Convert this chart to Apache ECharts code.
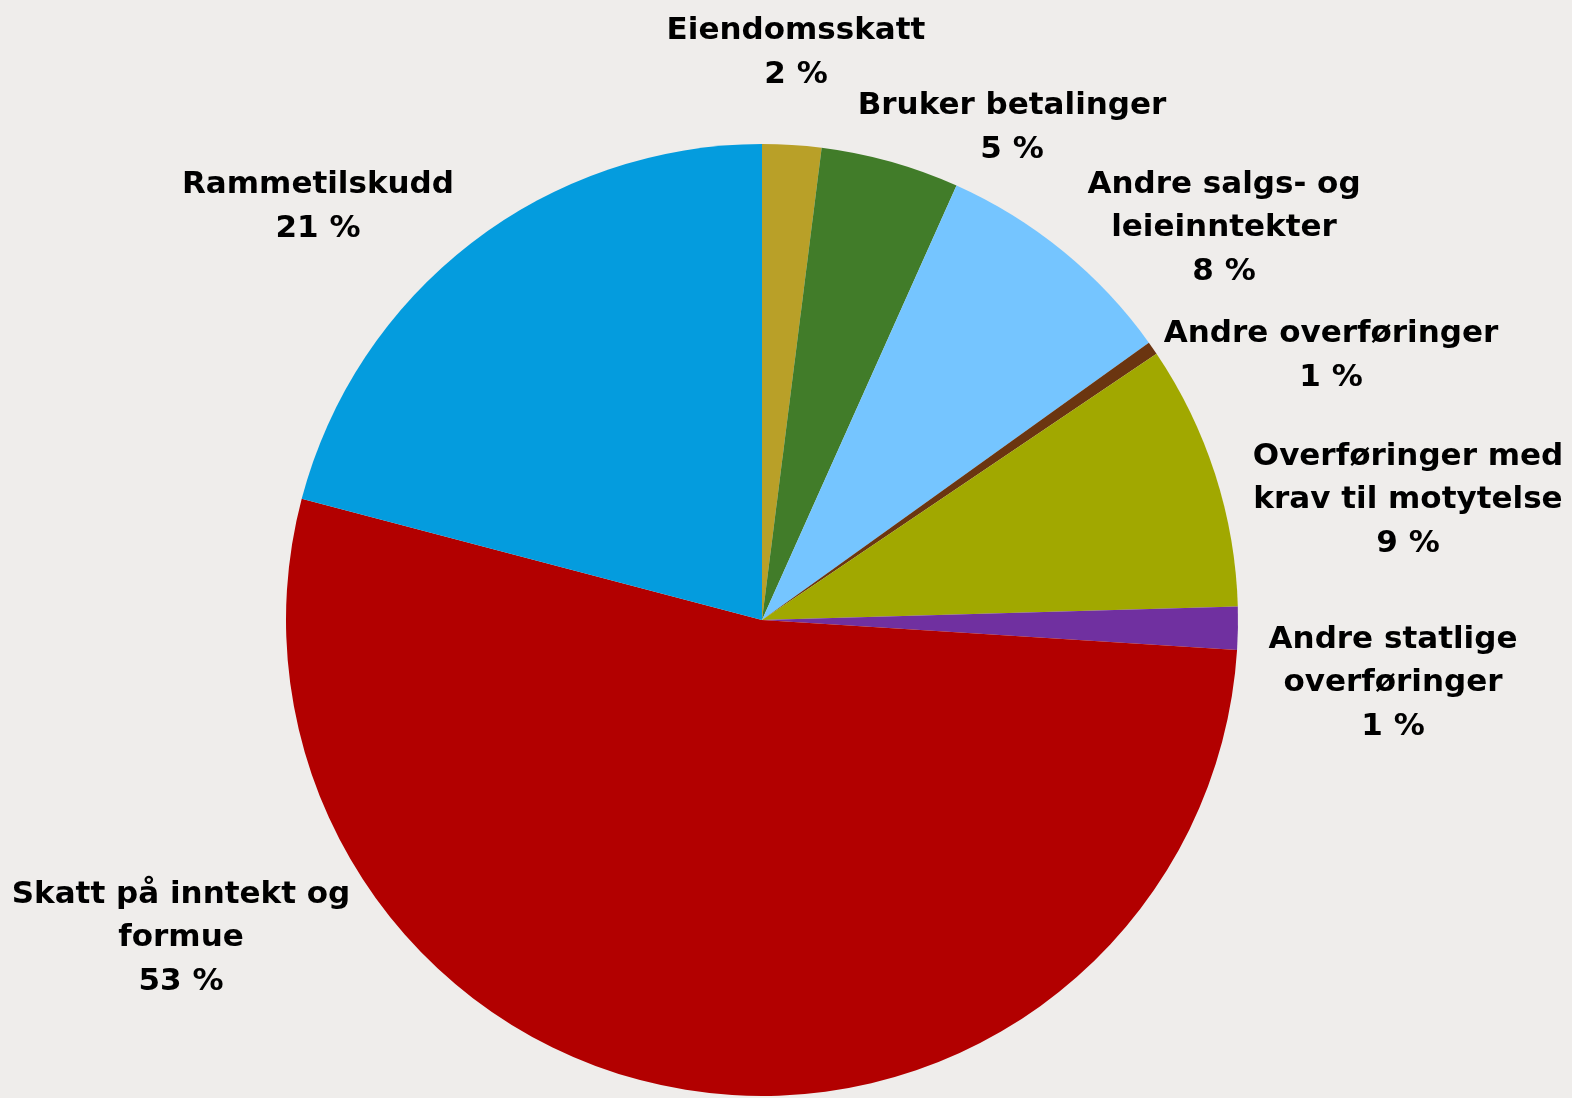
<!DOCTYPE html>
<html>
<head>
<meta charset="utf-8">
<script src="https://cdn.jsdelivr.net/npm/echarts@6/dist/echarts.min.js"></script>
<style>
  html, body { margin: 0; padding: 0; background: #EFEDEB; }
  #chart { width: 1572px; height: 1098px; }
</style>
</head>
<body>
<div id="chart"></div>
<script>
// categories, clockwise from 12 o'clock
const categories = [
  'Eiendomsskatt',
  'Bruker betalinger',
  'Andre salgs- og\nleieinntekter',
  'Andre overføringer',
  'Overføringer med\nkrav til motytelse',
  'Andre statlige\noverføringer',
  'Skatt på inntekt og\nformue',
  'Rammetilskudd'
]
// shares in percent
const shares = [2.0, 4.7, 8.4, 0.45, 9.0, 1.45, 53.1, 20.9]
// percentages as printed on the labels
const pctLabels = ['2 %', '5 %', '8 %', '1 %', '9 %', '1 %', '53 %', '21 %']

const colors = ['#B9A028', '#417C29', '#75C5FF', '#6B3510', '#A1A800', '#7030A0', '#B20000', '#049CDE']
// label block centres (x, y) in px
const labelPos = [
  [796, 53], [1012, 128], [1224, 228], [1331, 356],
  [1408, 500], [1393, 683], [181, 938], [318, 207]
]

const chart = echarts.init(document.getElementById('chart'))

chart.setOption({
  backgroundColor: '#EFEDEB',
  animation: false,
  series: [
    {
      type: 'pie',
      center: [762, 620],
      radius: 476,
      startAngle: 90,
      clockwise: true,
      avoidLabelOverlap: false,
      data: categories.map((name, i) => ({
        name: name,
        value: shares[i],
        itemStyle: { color: colors[i] }
      })),
      itemStyle: { borderWidth: 0 },
      label: {
        show: true,
        position: 'outside',
        formatter: (p) => p.name + '\n' + pctLabels[p.dataIndex],
        fontFamily: '"DejaVu Sans", sans-serif',
        fontWeight: 'bold',
        fontSize: 31,
        lineHeight: 43.5,
        color: '#000',
        align: 'center'
      },
      labelLine: { show: false },
      labelLayout: (params) => ({
        x: labelPos[params.dataIndex][0],
        y: labelPos[params.dataIndex][1],
        align: 'center',
        verticalAlign: 'middle'
      })
    }
  ]
})
</script>
</body>
</html>
